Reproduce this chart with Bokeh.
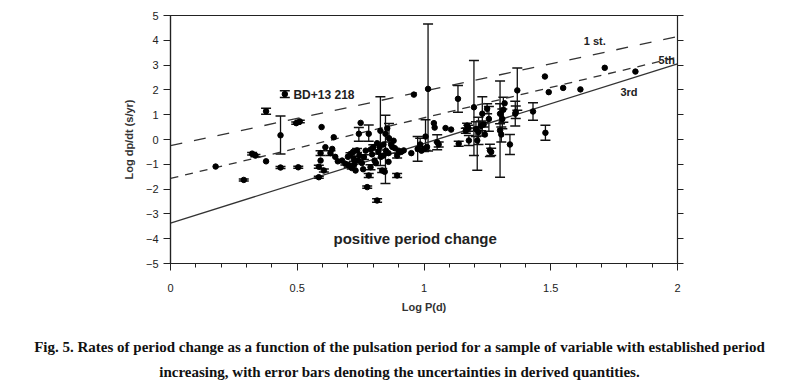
from bokeh.plotting import figure
from bokeh.models import ColumnDataSource, Whisker, TeeHead, LinearAxis, Label, Div, Range1d, FixedTicker
from bokeh.layouts import column
from bokeh.embed import file_html
from bokeh.resources import INLINE

# ---- data ----
log_p = [0.178, 0.289, 0.322, 0.335, 0.377, 0.377, 0.434, 0.434, 0.451, 0.496,
         0.510, 0.504, 0.596, 0.585, 0.585, 0.592, 0.592, 0.605, 0.611, 0.631,
         0.638, 0.644, 0.677, 0.690, 0.703, 0.710, 0.715, 0.723, 0.730, 0.736,
         0.743, 0.750, 0.745, 0.755, 0.763, 0.770, 0.776, 0.782, 0.782, 0.789,
         0.795, 0.800, 0.805, 0.815, 0.815, 0.820, 0.828, 0.830, 0.835, 0.840,
         0.845, 0.848, 0.850, 0.855, 0.860, 0.862, 0.875, 0.880, 0.894, 0.894,
         0.900, 0.920, 0.960, 0.975, 0.985, 0.990, 1.000, 1.006, 1.016, 1.012,
         1.039, 1.042, 1.052, 1.058, 1.085, 1.107, 1.134, 1.137, 1.165, 1.170,
         1.175, 1.177, 1.197, 1.205, 1.210, 1.215, 1.225, 1.230, 1.235, 1.240,
         1.249, 1.256, 1.260, 1.265, 1.300, 1.300, 1.305, 1.309, 1.313, 1.318,
         1.339, 1.360, 1.362, 1.368, 1.430, 1.479, 1.477, 1.492, 1.549, 1.617,
         1.713, 1.834,
         0.650, 0.660, 0.700, 0.720, 0.725, 0.740, 0.760, 0.790, 0.810, 0.825,
         0.840, 0.860, 0.870, 0.885, 0.910, 0.950]
log_dpdt = [-1.09, -1.63, -0.57, -0.65, -0.88, 1.14, 0.17, -1.13, 1.83, 0.66,
            0.73, -1.12, 0.50, -1.52, -1.10, -0.55, -0.85, -1.25, -0.31, -0.55,
            -0.38, 0.09, -0.85, -0.98, -1.05, -0.58, -1.15, -0.78, -1.25, -0.44,
            0.23, 0.67, -0.65, -0.95, -0.71, -0.45, -1.92, 0.23, -1.45, -1.12,
            -0.60, -0.31, -0.85, -2.46, -0.15, -0.50, 0.35, -0.70, -1.25, -0.20,
            -1.30, 0.23, -0.45, 0.45, -0.90, 0.05, -0.30, -0.05, -0.65, -1.45,
            -0.45, -0.44, 1.81, -0.38, -0.20, -0.45, -0.38, 0.12, 2.04, -0.30,
            0.66, 0.48, -0.11, -0.20, 0.46, 0.40, 1.64, -0.17, 0.35, 0.56,
            0.45, -0.04, 1.30, 0.42, -0.04, 0.30, 0.55, 1.04, 0.60, 0.20,
            1.24, 0.83, -0.44, -0.50, 1.04, 0.36, 0.20, 0.83, 1.20, 1.46,
            -0.20, 1.04, 1.10, 1.98, 1.13, 0.27, 2.54, 1.91, 2.08, 2.02,
            2.89, 2.74,
            -0.70, -0.88, -0.70, -0.50, -1.00, -0.85, -1.20, -0.40, -0.95, -0.30,
            -0.65, -0.55, -0.20, -0.35, -0.50, -0.55]
err_up = [0, 0.04, 0.05, 0.05, 0, 0.12, 0.78, 0.04, 0.14, 0.05,
          0.05, 0.04, 0, 0.04, 0.06, 0.10, 0, 0.06, 0, 0.10,
          0, 0, 0, 0.05, 0.08, 0.05, 0.04, 0.10, 0, 0.08,
          0.25, 0, 0, 0, 0.10, 0, 0.05, 0.35, 0.08, 0.10,
          0, 0.10, 0, 0.07, 0, 0.08, 1.37, 0, 0.08, 0,
          0, 0.75, 0, 0, 0, 0.60, 0, 0, 0.10, 0.08,
          0, 0, 0, 0.50, 0.25, 0, 0.10, 0.68, 2.62, 0,
          0, 0, 0.30, 0.10, 0, 0, 0.54, 0.10, 0.10, 0.10,
          0.12, 0.20, 1.89, 0.30, 0.50, 0.60, 0.20, 0.68, 0.10, 0,
          0.20, 0.50, 0.25, 0.15, 0.40, 2.00, 0.30, 0.40, 0.50, 0,
          0.40, 0.50, 0.25, 0.90, 0.35, 0.30, 0, 0, 0, 0,
          0, 0,
          0, 0, 0, 0, 0, 0, 0, 0, 0, 0,
          0, 0, 0, 0, 0, 0]
err_down = [0, 0.04, 0.05, 0.05, 0, 0.12, 0.75, 0.04, 0.14, 0.05,
            0.05, 0.04, 0, 0.04, 0.06, 0.10, 0, 0.06, 0, 0.10,
            0, 0, 0, 0.05, 0.08, 0.05, 0.04, 0.10, 0, 0.08,
            0.30, 0, 0, 0, 0.10, 0, 0.05, 0.30, 0.08, 0.10,
            0, 0.10, 0, 0.07, 0, 0.08, 1.40, 0, 0.08, 0,
            0, 2.00, 0, 0, 0, 0.15, 0, 0, 0.10, 0.08,
            0, 0, 0, 0.50, 0.25, 0, 0.10, 0.55, 2.50, 0,
            0, 0, 0.30, 0.10, 0, 0, 0.54, 0.10, 0.10, 0.10,
            0.12, 0.20, 1.95, 0.30, 1.20, 0.50, 0.20, 0.90, 0.10, 0,
            0.20, 0.50, 0.25, 0.15, 0.40, 1.88, 0.30, 0.40, 0.50, 0,
            0.40, 0.50, 0.25, 0.80, 0.35, 0.30, 0, 0, 0, 0,
            0, 0,
            0, 0, 0, 0, 0, 0, 0, 0, 0, 0,
            0, 0, 0, 0, 0, 0]

fit_x = [0.0, 2.0]
fit_1st = [-0.25, 4.15]
fit_5th = [-1.57, 3.32]
fit_3rd = [-3.37, 3.05]

x_ticks = [0, 0.5, 1, 1.5, 2]
y_ticks = [-5, -4, -3, -2, -1, 0, 1, 2, 3, 4, 5]

caption = ("Fig. 5. Rates of period change as a function of the pulsation period for a sample of variable with established period"
           "<br>increasing, with error bars denoting the uncertainties in derived quantities.")

# ---- figure ----
p = figure(width=789, height=320, output_backend="svg", toolbar_location=None,
           x_range=Range1d(0, 2), y_range=Range1d(-5, 5),
           min_border_left=170, min_border_right=112, min_border_top=15, min_border_bottom=57)
p.grid.visible = False
p.outline_line_color = "#222222"
p.outline_line_width = 1.2
p.background_fill_color = "white"
p.border_fill_color = "white"

FONT = "Liberation Sans"

xa = p.xaxis[0]
xa.ticker = FixedTicker(ticks=x_ticks, minor_ticks=[i / 10 for i in range(0, 21)])
xa.axis_label = "Log P(d)"
ya = p.yaxis[0]
ya.ticker = FixedTicker(ticks=y_ticks)
ya.axis_label = "Log dp/dt (s/yr)"
for ax in (xa, ya):
    ax.axis_line_color = "#222222"
    ax.axis_line_width = 1.2
    ax.major_tick_line_color = "#222222"
    ax.minor_tick_line_color = "#222222"
    ax.major_tick_in = 0
    ax.major_tick_out = 7
    ax.minor_tick_in = 0
    ax.minor_tick_out = 4
    ax.major_label_text_font = FONT
    ax.major_label_text_font_size = "11px"
    ax.major_label_text_color = "#222222"
    ax.axis_label_text_font = FONT
    ax.axis_label_text_font_size = "11px"
    ax.axis_label_text_font_style = "bold"
    ax.axis_label_text_color = "#333333"
ya.minor_tick_line_color = None
xa.major_label_standoff = 13
xa.axis_label_standoff = 6
ya.major_label_standoff = 5
ya.axis_label_standoff = 8

ra = LinearAxis(ticker=FixedTicker(ticks=y_ticks))
ra.major_label_text_color = None
ra.major_label_text_font_size = "1px"
ra.axis_line_color = "#222222"
ra.major_tick_line_color = "#222222"
ra.major_tick_in = 0
ra.major_tick_out = 6
ra.minor_tick_line_color = None
p.add_layout(ra, "right")

# fit lines
p.line(fit_x, fit_1st, line_color="#333333", line_width=1.3, line_dash="12 12")
p.line(fit_x, fit_5th, line_color="#333333", line_width=1.3, line_dash="8 7")
p.line(fit_x, fit_3rd, line_color="#333333", line_width=1.3)

# error bars
bx, bu, bl = [], [], []
for xv, yv, up, dn in zip(log_p, log_dpdt, err_up, err_down):
    if up > 0 or dn > 0:
        bx.append(xv)
        bu.append(yv + up)
        bl.append(yv - dn)
wsrc = ColumnDataSource(dict(base=bx, upper=bu, lower=bl))
w = Whisker(source=wsrc, base="base", upper="upper", lower="lower",
            line_color="#111111", line_width=1.3,
            upper_head=TeeHead(size=10, line_color="#111111", line_width=1.5),
            lower_head=TeeHead(size=10, line_color="#111111", line_width=1.5))
p.add_layout(w)

p.scatter(log_p, log_dpdt, marker="circle", size=5.5, fill_color="black", line_color="black")

# labels
def lab(x, y, t, size, bold=True):
    p.add_layout(Label(x=x, y=y, text=t, text_font=FONT, text_font_size=size,
                       text_font_style="bold" if bold else "normal",
                       text_color="#222222", text_baseline="middle", text_align="left"))

lab(1.63, 3.99, "1 st.", "11px")
lab(1.925, 3.19, "5th", "11px")
lab(1.775, 1.90, "3rd", "11px")
lab(0.485, 1.81, "BD+13 218", "12px")
lab(0.643, -4.0, "positive period change", "15px")

div = Div(text=caption, width=789, height=60,
          styles={"font-family": "Liberation Serif", "font-weight": "bold",
                  "font-size": "15px", "line-height": "25px", "text-align": "center",
                  "color": "#111111", "padding-top": "10px"})

layout = column(p, div, spacing=0)
open("out.html", "w").write(file_html(layout, INLINE))
